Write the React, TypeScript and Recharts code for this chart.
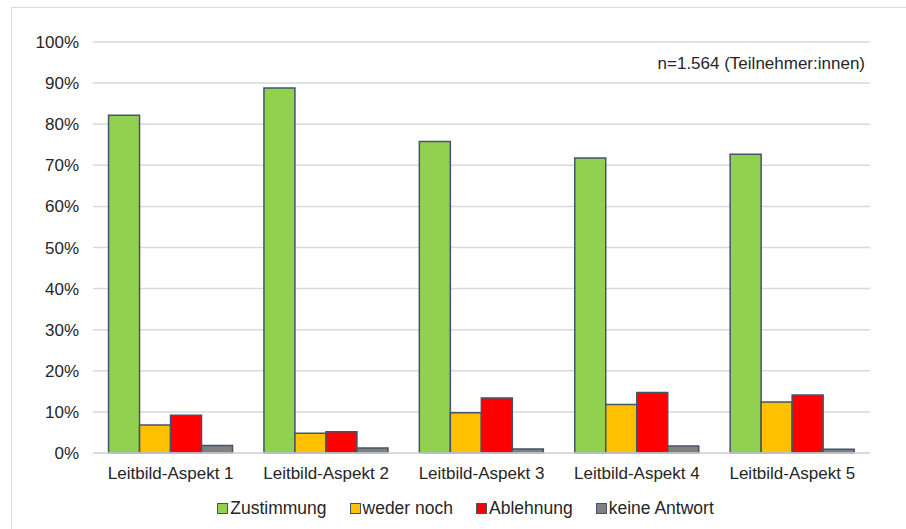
import React from "react";
import { BarChart, Bar, XAxis, YAxis, CartesianGrid, Legend } from "recharts";

const categories = [
  "Leitbild-Aspekt 1",
  "Leitbild-Aspekt 2",
  "Leitbild-Aspekt 3",
  "Leitbild-Aspekt 4",
  "Leitbild-Aspekt 5",
];
const zustimmung = [82.2, 88.8, 75.8, 71.8, 72.7];
const wederNoch = [6.8, 4.8, 9.8, 11.8, 12.4];
const ablehnung = [9.2, 5.2, 13.4, 14.7, 14.1];
const keineAntwort = [1.8, 1.2, 1.0, 1.7, 0.9];
const yTicks = [0, 10, 20, 30, 40, 50, 60, 70, 80, 90, 100];

const series = [
  { key: "zustimmung", name: "Zustimmung", color: "#92d050" },
  { key: "wederNoch", name: "weder noch", color: "#ffc000" },
  { key: "ablehnung", name: "Ablehnung", color: "#ff0000" },
  { key: "keineAntwort", name: "keine Antwort", color: "#808080" },
];

const data = categories.map((c, i) => ({
  name: c,
  zustimmung: zustimmung[i],
  wederNoch: wederNoch[i],
  ablehnung: ablehnung[i],
  keineAntwort: keineAntwort[i],
}));

const FONT = "'Liberation Sans', Arial, sans-serif";
const TEXT = "#262626";
const EDGE = "#44546a";
const FS = 17;

// legend drawn like the office-style one: small framed square + label
const LegendContent = () => (
  <div
    style={{
      display: "flex",
      justifyContent: "center",
      fontFamily: FONT,
      fontSize: 17.5,
      color: TEXT,
      height: 20,
      lineHeight: "20px",
      paddingLeft: 61,
    }}
  >
    {series.map((s) => (
      <div
        key={s.key}
        style={{ display: "flex", alignItems: "center", margin: "0 11.5px" }}
      >
        <span
          style={{
            display: "inline-block",
            width: 9,
            height: 9,
            background: s.color,
            border: `1.5px solid ${EDGE}`,
            marginRight: 2,
          }}
        />
        {s.name}
      </div>
    ))}
  </div>
);

export default function App() {
  return (
    <div style={{ position: "absolute", left: 0, top: 0, width: 906, height: 529, background: "#fff" }}>
      <div
        style={{
          position: "absolute",
          left: 11,
          top: 7,
          width: 906,
          height: 540,
          border: "1px solid #d9d9d9",
        }}
      />
      <div
        style={{
          position: "absolute",
          right: 41,
          top: 54,
          fontFamily: FONT,
          fontSize: FS,
          color: TEXT,
        }}
      >
        n=1.564 (Teilnehmer:innen)
      </div>
      <div style={{ position: "absolute", left: 0, top: 0 }}>
        <BarChart
          width={906}
          height={529}
          data={data}
          margin={{ top: 42, right: 36, left: 0, bottom: 11 }}
          barCategoryGap="10%"
          barGap={0}
        >
          <CartesianGrid vertical={false} stroke="#d9d9d9" strokeWidth={1.5} />
          <XAxis
            dataKey="name"
            axisLine={{ stroke: "#d9d9d9", strokeWidth: 1.5 }}
            tickLine={false}
            tick={{ fontFamily: FONT, fontSize: FS, fill: TEXT }}
            tickMargin={8}
            height={45}
          />
          <YAxis
            domain={[0, 100]}
            ticks={yTicks}
            tickFormatter={(v) => `${v}%`}
            axisLine={false}
            tickLine={false}
            tickSize={0}
            tickMargin={14}
            width={93}
            tick={{ fontFamily: FONT, fontSize: FS, fill: TEXT }}
          />
          <Legend verticalAlign="bottom" content={<LegendContent />} wrapperStyle={{ paddingTop: 0 }} />
          {series.map((s) => (
            <Bar
              key={s.key}
              dataKey={s.key}
              name={s.name}
              fill={s.color}
              stroke={EDGE}
              strokeWidth={1.5}
              isAnimationActive={false}
            />
          ))}
        </BarChart>
      </div>
    </div>
  );
}
